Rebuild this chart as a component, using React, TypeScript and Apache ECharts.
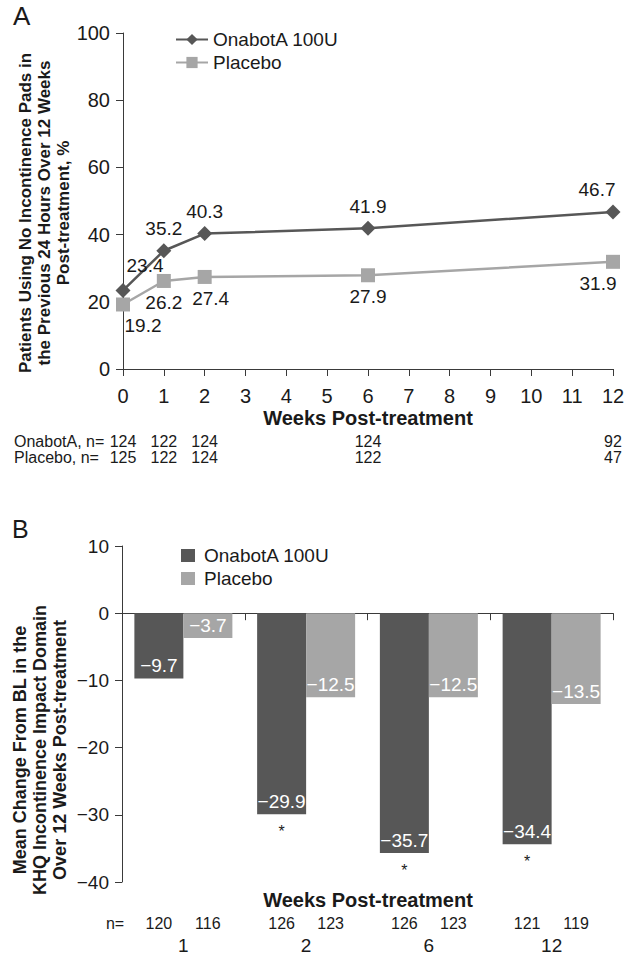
import React, { useEffect, useRef } from 'react';
import * as echarts from 'echarts';

// ---------- Panel A data ----------
const weeksA = [0, 1, 2, 6, 12];
const onabotPct = [23.4, 35.2, 40.3, 41.9, 46.7];
const placeboPct = [19.2, 26.2, 27.4, 27.9, 31.9];
const onabotNA = [124, 122, 124, 124, 92];
const placeboNA = [125, 122, 124, 122, 47];

// ---------- Panel B data ----------
const weeksB = ['1', '2', '6', '12'];
const onabotChange = [-9.7, -29.9, -35.7, -34.4];
const placeboChange = [-3.7, -12.5, -12.5, -13.5];
const onabotNB = [120, 126, 126, 121];
const placeboNB = [116, 123, 123, 119];
const significantB = [false, true, true, true];

const seriesNames = ['OnabotA 100U', 'Placebo'];

const FONT = "'Liberation Sans', Arial, Helvetica, sans-serif";
const TXT = '#1a1a1a';
const AXIS = '#3a3a3a';
const DARK = '#575757';
const LIGHT = '#a6a6a6';

const minus = (v: number, d = 0) => (v < 0 ? '\u2212' + Math.abs(v).toFixed(d) : v.toFixed(d));

export default function App() {
  const ref = useRef<HTMLDivElement>(null);

  useEffect(() => {
    if (!ref.current) return;
    const chart = echarts.init(ref.current, undefined, { renderer: 'svg' });

    // label layout tweaks (per point index)
    const onaLabel: Record<number, any> = {
      0: { offset: [22, -3] },
      4: { offset: [-16, -1] },
    };
    const plaLabel: Record<number, any> = {
      0: { offset: [20, 0] },
      2: { offset: [6, 0] },
      4: { offset: [-15, 0] },
    };

    const option: any = {
      animation: false,
      textStyle: { fontFamily: FONT },
      grid: [
        { left: 123, width: 490, top: 33, height: 336 },
        { left: 122, width: 491, top: 546, height: 336 },
      ],
      legend: [
        {
          data: seriesNames,
          orient: 'vertical',
          left: 170,
          top: 25,
          itemWidth: 32,
          itemHeight: 14,
          itemGap: 4,
          textStyle: { fontSize: 19, color: TXT, fontFamily: FONT },
          selectedMode: false,
        },
        {
          data: seriesNames.map((n) => 'B-' + n),
          orient: 'vertical',
          left: 176,
          top: 541,
          icon: 'rect',
          itemWidth: 14,
          itemHeight: 13,
          itemGap: 4,
          formatter: (n: string) => n.replace('B-', ''),
          textStyle: { fontSize: 19, color: TXT, fontFamily: FONT, padding: [0, 0, 0, 4] },
          selectedMode: false,
        },
      ],
      xAxis: [
        {
          gridIndex: 0,
          type: 'value',
          min: 0,
          max: 12,
          interval: 1,
          axisLine: { show: true, onZero: false, lineStyle: { color: AXIS, width: 1 } },
          axisTick: { show: true, length: 7, lineStyle: { color: AXIS } },
          splitLine: { show: false },
          axisLabel: {
            margin: 16,
            color: TXT,
            formatter: (v: number) => {
              const i = weeksA.indexOf(v);
              let s = `{t|${v}}`;
              if (i >= 0) s += `\n{g| }\n{n|${onabotNA[i]}}\n{n|${placeboNA[i]}}`;
              return s;
            },
            rich: {
              t: { fontSize: 20, lineHeight: 22, color: TXT, fontFamily: FONT },
              g: { fontSize: 10, lineHeight: 26 },
              n: { fontSize: 16, lineHeight: 16, color: TXT, fontFamily: FONT },
            },
          },
        },
        {
          gridIndex: 1,
          type: 'category',
          data: weeksB,
          position: 'bottom',
          axisLine: { show: false, onZero: false },
          axisTick: { show: false },
          axisLabel: {
            margin: 31,
            interval: 0,
            color: TXT,
            formatter: (v: string, i: number) =>
              `{n|${onabotNB[i]}}{n|${placeboNB[i]}}\n{c|${v}}`,
            rich: {
              n: { width: 49, align: 'center', fontSize: 16, lineHeight: 20, color: TXT, fontFamily: FONT },
              c: { align: 'center', fontSize: 19, lineHeight: 24, color: TXT, fontFamily: FONT },
            },
          },
        },
        {
          gridIndex: 1,
          type: 'category',
          data: weeksB,
          position: 'bottom',
          axisLine: { show: true, onZero: true, lineStyle: { color: AXIS, width: 1 } },
          axisTick: { show: true, length: 7, lineStyle: { color: AXIS } },
          axisLabel: { show: false },
        },
      ],
      yAxis: [
        {
          gridIndex: 0,
          type: 'value',
          min: 0,
          max: 100,
          interval: 20,
          axisLine: { show: true, lineStyle: { color: AXIS, width: 1 } },
          axisTick: { show: true, length: 7, lineStyle: { color: AXIS } },
          splitLine: { show: false },
          axisLabel: { margin: 13, fontSize: 20, color: TXT },
        },
        {
          gridIndex: 1,
          type: 'value',
          min: -40,
          max: 10,
          interval: 10,
          axisLine: { show: true, lineStyle: { color: AXIS, width: 1 } },
          axisTick: { show: true, length: 7, lineStyle: { color: AXIS } },
          splitLine: { show: false },
          axisLabel: { margin: 13, fontSize: 19, color: TXT, formatter: (v: number) => minus(v) },
        },
      ],
      series: [
        {
          name: seriesNames[0],
          type: 'line',
          xAxisIndex: 0,
          yAxisIndex: 0,
          symbol: 'diamond',
          symbolSize: 15,
          lineStyle: { color: DARK, width: 2.5 },
          itemStyle: { color: DARK },
          label: {
            show: true,
            position: 'top',
            fontSize: 19,
            color: TXT,
            formatter: (p: any) => p.value[1].toFixed(1),
          },
          data: weeksA.map((w, i) => ({ value: [w, onabotPct[i]], label: onaLabel[i] })),
          z: 3,
        },
        {
          name: seriesNames[1],
          type: 'line',
          xAxisIndex: 0,
          yAxisIndex: 0,
          symbol: 'rect',
          symbolSize: 14,
          lineStyle: { color: LIGHT, width: 2.5 },
          itemStyle: { color: LIGHT },
          label: {
            show: true,
            position: 'bottom',
            fontSize: 19,
            color: TXT,
            formatter: (p: any) => p.value[1].toFixed(1),
          },
          data: weeksA.map((w, i) => ({ value: [w, placeboPct[i]], label: plaLabel[i] })),
          z: 2,
        },
        {
          name: 'B-' + seriesNames[0],
          type: 'bar',
          xAxisIndex: 1,
          yAxisIndex: 1,
          barWidth: 49,
          barGap: '0%',
          itemStyle: { color: DARK },
          label: {
            show: true,
            position: 'insideBottom',
            distance: 3,
            fontSize: 19,
            color: '#ffffff',
            formatter: (p: any) => minus(p.value, 1),
          },
          data: onabotChange,
          markPoint: {
            symbol: 'circle',
            symbolSize: 1,
            itemStyle: { color: 'rgba(0,0,0,0)' },
            label: {
              show: true,
              position: 'bottom',
              distance: 9,
              formatter: '*',
              fontSize: 16,
              color: TXT,
            },
            data: weeksB
              .map((w, i) => ({ coord: [w, onabotChange[i]], sig: significantB[i] }))
              .filter((d) => d.sig)
              .map((d) => ({ coord: d.coord })),
          },
        },
        {
          name: 'B-' + seriesNames[1],
          type: 'bar',
          xAxisIndex: 1,
          yAxisIndex: 1,
          barWidth: 49,
          barGap: '0%',
          itemStyle: { color: LIGHT },
          label: {
            show: true,
            position: 'insideBottom',
            distance: 3,
            fontSize: 19,
            color: '#ffffff',
            formatter: (p: any) => minus(p.value, 1),
          },
          data: placeboChange,
        },
      ],
      graphic: [
        { type: 'text', x: 13, y: 16, style: { text: 'A', font: `26px ${FONT}`, fill: TXT, verticalAlign: 'middle' } },
        { type: 'text', x: 12, y: 529, style: { text: 'B', font: `25px ${FONT}`, fill: TXT, verticalAlign: 'middle' } },
        {
          type: 'text',
          x: 44,
          y: 213,
          rotation: Math.PI / 2,
          style: {
            text: 'Patients Using No Incontinence Pads in\nthe Previous 24 Hours Over 12 Weeks\nPost-treatment, %',
            font: `bold 17px ${FONT}`,
            lineHeight: 19,
            fill: TXT,
            align: 'center',
            verticalAlign: 'middle',
          },
        },
        {
          type: 'text',
          x: 40,
          y: 750,
          rotation: Math.PI / 2,
          style: {
            text: 'Mean Change From BL in the\nKHQ Incontinence Impact Domain\nOver 12 Weeks Post-treatment',
            font: `bold 18px ${FONT}`,
            lineHeight: 20,
            fill: TXT,
            align: 'center',
            verticalAlign: 'middle',
          },
        },
        {
          type: 'text',
          x: 368,
          y: 418,
          style: { text: 'Weeks Post-treatment', font: `bold 20px ${FONT}`, fill: TXT, align: 'center', verticalAlign: 'middle' },
        },
        {
          type: 'text',
          x: 368,
          y: 900,
          style: { text: 'Weeks Post-treatment', font: `bold 20px ${FONT}`, fill: TXT, align: 'center', verticalAlign: 'middle' },
        },
        {
          type: 'text',
          x: 14,
          y: 441,
          style: { text: 'OnabotA, n=', font: `16px ${FONT}`, fill: TXT, align: 'left', verticalAlign: 'middle' },
        },
        {
          type: 'text',
          x: 14,
          y: 457,
          style: { text: 'Placebo, n=', font: `16px ${FONT}`, fill: TXT, align: 'left', verticalAlign: 'middle' },
        },
        {
          type: 'text',
          x: 115,
          y: 923,
          style: { text: 'n=', font: `16px ${FONT}`, fill: TXT, align: 'center', verticalAlign: 'middle' },
        },
      ],
    };

    chart.setOption(option);
    return () => chart.dispose();
  }, []);

  return (
    <div
      ref={ref}
      style={{ position: 'absolute', left: 0, top: 0, width: 636, height: 955, background: '#fff' }}
    />
  );
}
